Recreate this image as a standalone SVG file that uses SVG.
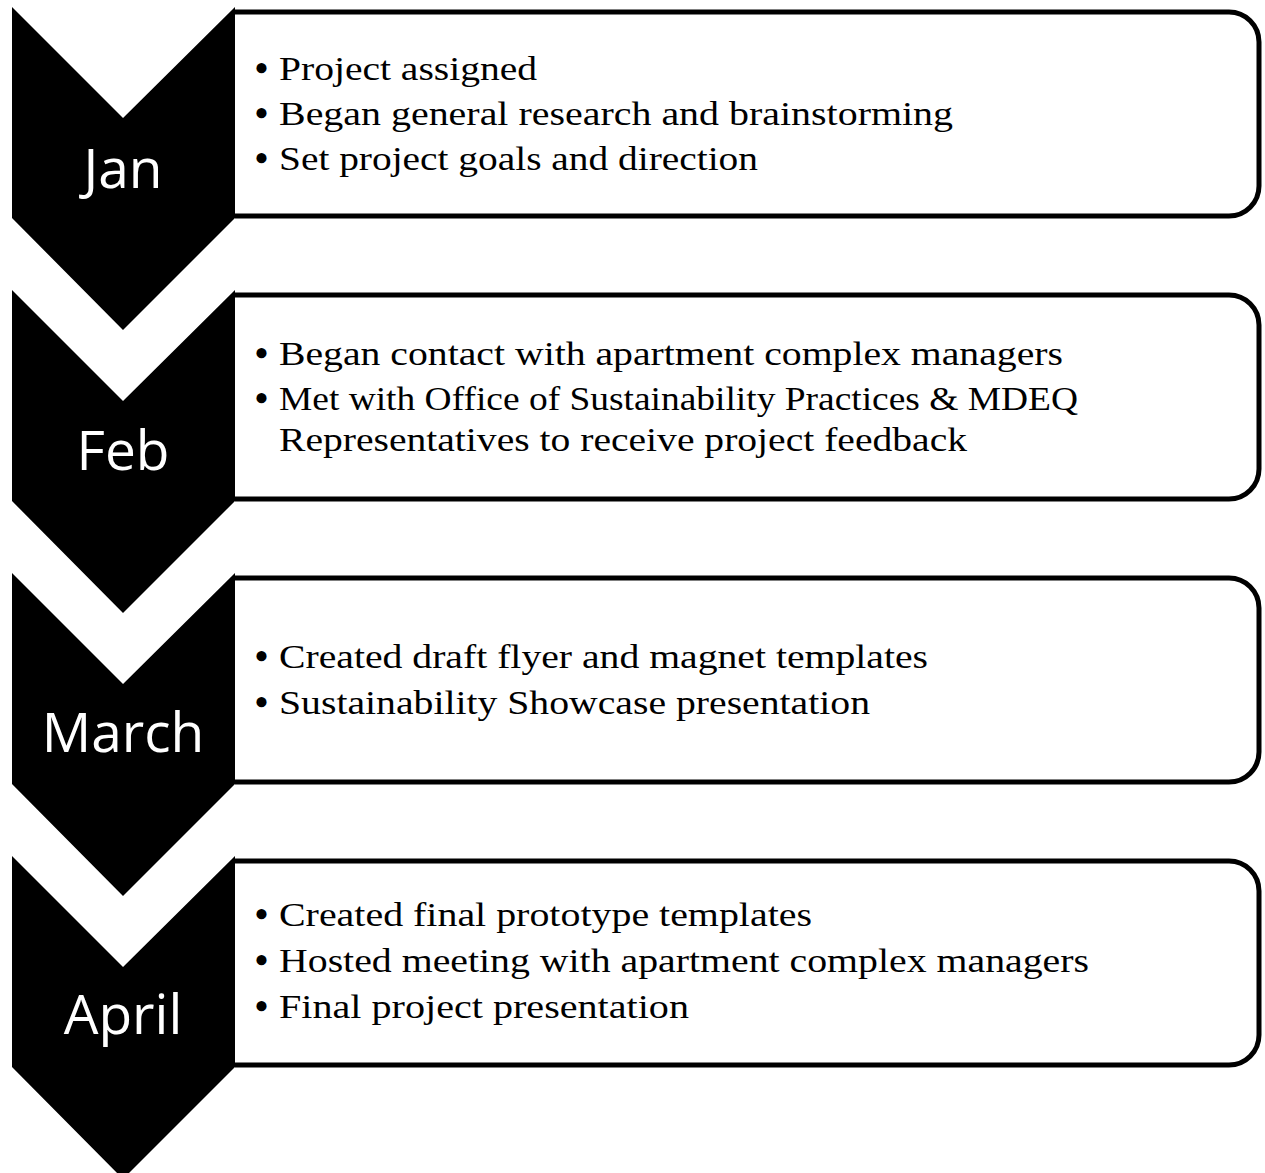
<svg xmlns="http://www.w3.org/2000/svg" width="1265" height="1173" viewBox="0 0 1265 1173">
<style>
.box{fill:#fff;stroke:#000;stroke-width:5;stroke-linejoin:round}
.chev{fill:#000}
.month{font-family:"Open Sans","Liberation Sans",sans-serif;font-size:55px;fill:#fff;text-anchor:middle}
.item{font-family:"Liberation Serif","DejaVu Serif",serif;font-size:34px;fill:#000}
.bul{font-size:37px;font-weight:bold}
</style>
<rect width="1265" height="1173" fill="#fff"/>
<g id="connectors"></g>
<g id="step-jan">
<path class="box" d="M235,12 H1229 A30,30 0 0 1 1259,42 V186 A30,30 0 0 1 1229,216 H235"/>
<polygon class="chev" points="12,7 123,118 235,7 235,218 123,330 12,218"/>
<text class="month" x="123" y="188">Jan</text>
<text class="item" y="81"><tspan class="bul" x="255">•</tspan><tspan x="279" dy="-1" textLength="258" lengthAdjust="spacingAndGlyphs">Project assigned</tspan></text>
<text class="item" y="126"><tspan class="bul" x="255">•</tspan><tspan x="279" dy="-1" textLength="674" lengthAdjust="spacingAndGlyphs">Began general research and brainstorming</tspan></text>
<text class="item" y="171"><tspan class="bul" x="255">•</tspan><tspan x="279" dy="-1" textLength="479" lengthAdjust="spacingAndGlyphs">Set project goals and direction</tspan></text>
</g>
<g id="step-feb">
<path class="box" d="M235,295 H1229 A30,30 0 0 1 1259,325 V469 A30,30 0 0 1 1229,499 H235"/>
<polygon class="chev" points="12,290 123,401 235,290 235,501 123,613 12,501"/>
<text class="month" x="123" y="470">Feb</text>
<text class="item" y="366"><tspan class="bul" x="255">•</tspan><tspan x="279" dy="-1" textLength="784" lengthAdjust="spacingAndGlyphs">Began contact with apartment complex managers</tspan></text>
<text class="item" y="411"><tspan class="bul" x="255">•</tspan><tspan x="279" dy="-1" textLength="799" lengthAdjust="spacingAndGlyphs">Met with Office of Sustainability Practices &amp; MDEQ</tspan></text>
<text class="item" x="279" y="451" textLength="688" lengthAdjust="spacingAndGlyphs">Representatives to receive project feedback</text>
</g>
<g id="step-march">
<path class="box" d="M235,578 H1229 A30,30 0 0 1 1259,608 V752 A30,30 0 0 1 1229,782 H235"/>
<polygon class="chev" points="12,573 123,684 235,573 235,784 123,896 12,784"/>
<text class="month" x="123" y="752">March</text>
<text class="item" y="669"><tspan class="bul" x="255">•</tspan><tspan x="279" dy="-1" textLength="649" lengthAdjust="spacingAndGlyphs">Created draft flyer and magnet templates</tspan></text>
<text class="item" y="715"><tspan class="bul" x="255">•</tspan><tspan x="279" dy="-1" textLength="591" lengthAdjust="spacingAndGlyphs">Sustainability Showcase presentation</tspan></text>
</g>
<g id="step-april">
<path class="box" d="M235,861 H1229 A30,30 0 0 1 1259,891 V1035 A30,30 0 0 1 1229,1065 H235"/>
<polygon class="chev" points="12,856 123,967 235,856 235,1067 123,1179 12,1067"/>
<text class="month" x="123" y="1034">April</text>
<text class="item" y="927"><tspan class="bul" x="255">•</tspan><tspan x="279" dy="-1" textLength="533" lengthAdjust="spacingAndGlyphs">Created final prototype templates</tspan></text>
<text class="item" y="973"><tspan class="bul" x="255">•</tspan><tspan x="279" dy="-1" textLength="810" lengthAdjust="spacingAndGlyphs">Hosted meeting with apartment complex managers</tspan></text>
<text class="item" y="1019"><tspan class="bul" x="255">•</tspan><tspan x="279" dy="-1" textLength="410" lengthAdjust="spacingAndGlyphs">Final project presentation</tspan></text>
</g>
</svg>
